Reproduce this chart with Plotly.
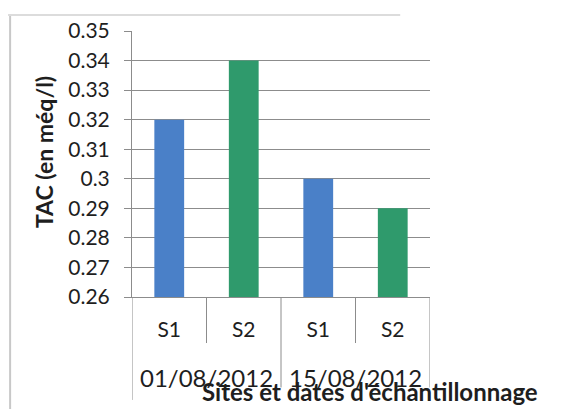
import plotly.graph_objects as go

dates = ["01/08/2012", "01/08/2012", "15/08/2012", "15/08/2012"]
sites = ["S1", "S2", "S1", "S2"]
tac = [0.32, 0.34, 0.30, 0.29]
colors = ["#4a80c8", "#2f9a6c", "#4a80c8", "#2f9a6c"]
yticks = [0.26, 0.27, 0.28, 0.29, 0.3, 0.31, 0.32, 0.33, 0.34, 0.35]
ylabels = ["0.26", "0.27", "0.28", "0.29", "0.3", "0.31", "0.32", "0.33", "0.34", "0.35"]

xpos = list(range(len(sites)))
font = "Lato, 'Open Sans', sans-serif"
txt = "#1e1e1e"
linec = "#8c8c8c"

fig = go.Figure(go.Bar(x=xpos, y=tac, marker=dict(color=colors, line=dict(width=0)), width=0.4))

# group structure for the two-level category axis
groups = []
for i, d in enumerate(dates):
    if groups and groups[-1][0] == d:
        groups[-1][2] = i
    else:
        groups.append([d, i, i])

shapes = []
# outer edges
for xb, yb in [(-0.5, -0.387), (len(sites) - 0.5, -0.34)]:
    shapes.append(dict(type="line", xref="x", yref="paper", x0=xb, x1=xb, y0=0, y1=yb,
                       line=dict(color=linec, width=1)))
for i in range(len(sites) - 1):
    same = dates[i] == dates[i + 1]
    yb = -0.173 if same else -0.34
    shapes.append(dict(type="line", xref="x", yref="paper", x0=i + 0.5, x1=i + 0.5, y0=0, y1=yb,
                       line=dict(color=linec, width=1)))
# chart frame
shapes += [
    dict(type="line", xref="paper", yref="paper", x0=-0.409, x1=-0.409, y0=-0.43, y1=1.06,
         line=dict(color="#c8c8c8", width=2)),
    dict(type="line", xref="paper", yref="paper", x0=-0.416, x1=0.9, y0=1.06, y1=1.06,
         line=dict(color="#dcdcdc", width=2)),
]

annotations = [
    dict(text="<b>TAC (en méq/l)</b>", xref="paper", yref="paper", x=-0.295, y=0.545,
         xanchor="center", yanchor="middle",
         textangle=-90, showarrow=False, font=dict(size=23, family=font, color=txt)),
]
for d, a, b in groups:
    annotations.append(dict(text=d, xref="x", yref="paper", x=(a + b) / 2, y=-0.303,
                            xanchor="center", yanchor="middle", showarrow=False,
                            font=dict(size=24, family=font, color=txt)))
annotations.append(dict(text="<b>Sites et dates d'échantillonnage</b>", xref="paper", yref="paper",
                        x=0.799, y=-0.357, xanchor="center", yanchor="middle", showarrow=False,
                        font=dict(size=24, family=font, color=txt)))

fig.update_layout(
    width=563, height=409,
    margin=dict(l=132, r=133, t=31, b=112),
    paper_bgcolor="white", plot_bgcolor="white",
    showlegend=False,
    font=dict(family=font, size=20, color=txt),
    xaxis=dict(range=[-0.5, len(sites) - 0.5], tickvals=xpos, ticktext=sites,
               showline=True, linecolor=linec, linewidth=1, ticks="",
               ticklabelstandoff=14, showgrid=False, zeroline=False,
               tickfont=dict(size=21)),
    yaxis=dict(range=[0.26, 0.35], tickvals=yticks, ticktext=ylabels,
               showline=True, linecolor=linec, linewidth=1,
               ticks="outside", ticklen=7, tickcolor=linec, ticklabelstandoff=10,
               showgrid=True, gridcolor=linec, gridwidth=1, zeroline=False,
               tickfont=dict(size=21)),
    shapes=shapes,
    annotations=annotations,
)

fig.write_html("out.html")
